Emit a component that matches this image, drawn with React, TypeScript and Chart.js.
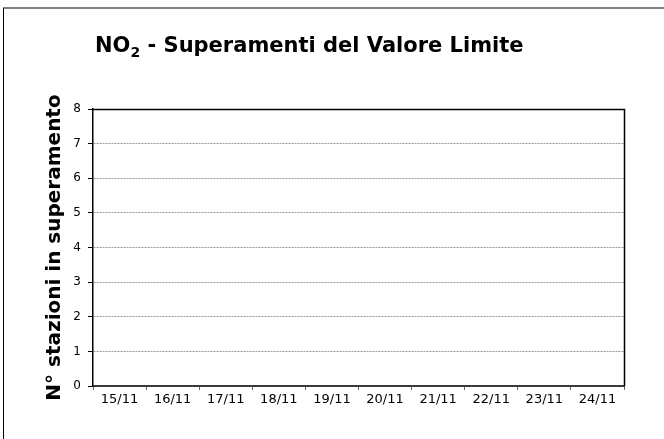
import React, { useEffect, useRef } from "react";
import { Chart, registerables } from "chart.js";

Chart.register(...registerables);

const categories = ["15/11", "16/11", "17/11", "18/11", "19/11", "20/11", "21/11", "22/11", "23/11", "24/11"];
const exceedances = [0, 0, 0, 0, 0, 0, 0, 0, 0, 0];
const yTicks = [0, 1, 2, 3, 4, 5, 6, 7, 8];
const titleMain = "NO";
const titleSub = "2";
const titleRest = " - Superamenti del Valore Limite";
const yAxisTitle = "N° stazioni in superamento";

const FONT = "'DejaVu Sans', Verdana, sans-serif";

export default function App() {
  const ref = useRef<HTMLCanvasElement>(null);

  useEffect(() => {
    document.body.style.margin = "0";
    const canvas = ref.current!;

    const framePlugin = {
      id: "frame",
      afterDraw(chart: any) {
        const { ctx, chartArea: a } = chart;
        ctx.save();
        // outer border (top gray, left black)
        ctx.strokeStyle = "#808080";
        ctx.lineWidth = 2;
        ctx.beginPath();
        ctx.moveTo(3, 8);
        ctx.lineTo(664, 8);
        ctx.stroke();
        ctx.strokeStyle = "#000";
        ctx.lineWidth = 1;
        ctx.beginPath();
        ctx.moveTo(3.5, 8);
        ctx.lineTo(3.5, 439);
        ctx.stroke();
        // plot frame top/right
        ctx.lineWidth = 1.5;
        ctx.beginPath();
        ctx.moveTo(a.left, a.top + 0.5);
        ctx.lineTo(a.right + 0.5, a.top + 0.5);
        ctx.lineTo(a.right + 0.5, a.bottom);
        ctx.stroke();
        // title with subscript
        ctx.fillStyle = "#000";
        ctx.textBaseline = "alphabetic";
        ctx.textAlign = "left";
        let x = 95;
        ctx.font = `bold 21px ${FONT}`;
        ctx.fillText(titleMain, x, 52);
        x += ctx.measureText(titleMain).width;
        ctx.font = `bold 14px ${FONT}`;
        ctx.fillText(titleSub, x, 57);
        x += ctx.measureText(titleSub).width;
        ctx.font = `bold 21px ${FONT}`;
        ctx.fillText(titleRest, x, 52);
        ctx.restore();
      },
    };

    const chart = new Chart(canvas, {
      type: "bar",
      data: {
        labels: categories,
        datasets: [
          {
            label: "NO2",
            data: exceedances,
            backgroundColor: "#4f6fb0",
            borderWidth: 0,
          },
        ],
      },
      options: {
        responsive: false,
        animation: false,
        layout: { padding: { left: 40, top: 109, right: 40, bottom: 0 } },
        plugins: {
          legend: { display: false },
          tooltip: { enabled: false },
          title: { display: false },
        },
        scales: {
          x: {
            offset: true,
            grid: {
              offset: true,
              drawOnChartArea: false,
              tickLength: 4,
              tickColor: "#666",
              tickWidth: 1,
            },
            border: { color: "#3a3a3a", width: 2 },
            ticks: {
              color: "#000",
              font: { family: FONT, size: 13 },
              padding: 2,
              maxRotation: 0,
              autoSkip: false,
            },
            afterFit(scale: any) {
              scale.height = 53;
            },
          },
          y: {
            min: 0,
            max: 8,
            afterBuildTicks(scale: any) {
              scale.ticks = yTicks.map((v) => ({ value: v }));
            },
            ticks: {
              color: "#000",
              font: { family: FONT, size: 12 },
              padding: 7,
            },
            grid: {
              color: (c: any) =>
                c.tick && (c.tick.value === 0 || c.tick.value === 8) ? "rgba(0,0,0,0)" : "#999999",
              lineWidth: 1,
              tickLength: 5,
              tickColor: "#000",
              tickWidth: 1,
            },
            border: { display: true, color: "#000", width: 1.5, dash: [2, 1] },
            title: {
              display: true,
              text: yAxisTitle,
              color: "#000",
              font: { family: FONT, size: 20, weight: "bold" },
              padding: { top: 3, bottom: 0 },
            },
            afterFit(scale: any) {
              scale.width = 53;
            },
          },
        },
      },
      plugins: [framePlugin],
    });

    return () => chart.destroy();
  }, []);

  return (
    <div style={{ width: 664, height: 439, position: "relative", background: "#fff" }}>
      <canvas ref={ref} width={664} height={439} style={{ display: "block" }} />
    </div>
  );
}
